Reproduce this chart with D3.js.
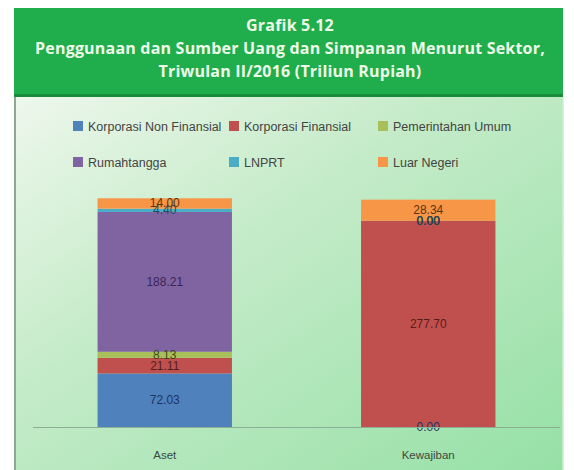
<!DOCTYPE html>
<html>
<head>
<meta charset="utf-8">
<script src="https://cdn.jsdelivr.net/npm/d3@7/dist/d3.min.js"></script>
<style>
  body { margin: 0; background: #fff; }
  svg { display: block; }
</style>
</head>
<body>
<script>
// data
var categories = ['Aset', 'Kewajiban'];
var sectors = ['Korporasi Non Finansial', 'Korporasi Finansial', 'Pemerintahan Umum',
               'Rumahtangga', 'LNPRT', 'Luar Negeri'];
var aset      = [72.03, 21.11, 8.13, 188.21, 4.40, 14.00];
var kewajiban = [0.00, 277.70, 0.00, 0.00, 0.00, 28.34];
var titleLines = ['Grafik 5.12',
                  'Penggunaan dan Sumber Uang dan Simpanan Menurut Sektor,',
                  'Triwulan II/2016 (Triliun Rupiah)'];

var colors = ['#4f81bd', '#c0504d', '#a9c05a', '#8064a2', '#4bacc6', '#f79646'];
var labelColors = ['#1d3560', '#5a1c1a', '#3c4a12', '#3a2458', '#1a4f5e', '#5a3510'];

var width = 574, height = 470;

var svg = d3.select('body').append('svg')
    .attr('width', width)
    .attr('height', height);

var defs = svg.append('defs');
var grad = defs.append('linearGradient')
    .attr('id', 'bg')
    .attr('x1', '0%').attr('y1', '0%')
    .attr('x2', '100%').attr('y2', '100%');
grad.append('stop').attr('offset', '0%').attr('stop-color', '#eef7ec');
grad.append('stop').attr('offset', '40%').attr('stop-color', '#c4ebc8');
grad.append('stop').attr('offset', '100%').attr('stop-color', '#96e0a6');

// panel
svg.append('rect')
    .attr('x', 14).attr('y', 96)
    .attr('width', 549).attr('height', 374)
    .attr('fill', 'url(#bg)');
svg.append('line')
    .attr('x1', 15).attr('x2', 15).attr('y1', 96).attr('y2', 470)
    .attr('stroke', '#8fa894').attr('stroke-width', 2);
svg.append('line')
    .attr('x1', 563).attr('x2', 563).attr('y1', 96).attr('y2', 470)
    .attr('stroke', '#c8f0cf').attr('stroke-width', 1.5);

// header
svg.append('rect')
    .attr('x', 14).attr('y', 8)
    .attr('width', 549).attr('height', 88)
    .attr('fill', '#1fae4b');
svg.append('rect')
    .attr('x', 14).attr('y', 94)
    .attr('width', 549).attr('height', 3)
    .attr('fill', '#178c3b');

svg.selectAll('text.title')
    .data(titleLines)
    .enter()
    .append('text')
        .attr('class', 'title')
        .attr('x', 290)
        .attr('y', function (d, i) { return 31 + i * 23; })
        .attr('text-anchor', 'middle')
        .attr('font-family', 'Open Sans, sans-serif')
        .attr('font-weight', 'bold')
        .attr('font-size', 16)
        .attr('letter-spacing', 0.2)
        .attr('fill', '#eefbe8')
        .text(function (d) { return d; });

// legend
var legendX = [73, 229, 378];
var legendY = [126, 162];
var legend = svg.selectAll('g.leg')
    .data(sectors)
    .enter()
    .append('g')
        .attr('class', 'leg')
        .attr('transform', function (d, i) {
            return 'translate(' + legendX[i % 3] + ',' + legendY[Math.floor(i / 3)] + ')';
        });
legend.append('rect')
    .attr('x', 0).attr('y', -5)
    .attr('width', 10).attr('height', 10)
    .attr('fill', function (d, i) { return colors[i]; });
legend.append('text')
    .attr('x', 15).attr('y', 4.5)
    .attr('font-family', 'Liberation Sans, Arial, sans-serif')
    .attr('font-size', 12.5)
    .attr('fill', '#444')
    .text(function (d) { return d; });

// scales
var x = d3.scaleBand()
    .domain(categories)
    .range([33, 560])
    .paddingInner(0.49)
    .paddingOuter(0.245);

var y = d3.scaleLinear()
    .domain([0, 350])
    .range([427, 167]);

// one series per sector, stacked within each category
var series = sectors.map(function (s, i) {
    return categories.map(function (c, j) {
        var vals = j === 0 ? aset : kewajiban;
        var base = d3.sum(vals.slice(0, i));
        return { cat: c, y0: base, y1: base + vals[i], v: vals[i], idx: i };
    });
});

var g = svg.append('g');

series.forEach(function (segs) {
    g.selectAll(null)
        .data(segs)
        .enter()
        .append('rect')
            .attr('x', function (d) { return x(d.cat); })
            .attr('width', x.bandwidth())
            .attr('y', function (d) { return y(d.y1); })
            .attr('height', function (d) { return y(d.y0) - y(d.y1); })
            .attr('fill', function (d) { return colors[d.idx]; });
});

// axis line
svg.append('line')
    .attr('x1', 33).attr('x2', 560)
    .attr('y1', y(0) + 0.5).attr('y2', y(0) + 0.5)
    .attr('stroke', '#8caf94').attr('stroke-width', 1);

// data labels
series.forEach(function (segs) {
    g.selectAll(null)
        .data(segs)
        .enter()
        .append('text')
            .attr('x', function (d) { return x(d.cat) + x.bandwidth() / 2; })
            .attr('y', function (d) { return y((d.y0 + d.y1) / 2) + 4; })
            .attr('text-anchor', 'middle')
            .attr('font-family', 'Liberation Sans, Arial, sans-serif')
            .attr('font-size', 12)
            .attr('fill', function (d) { return labelColors[d.idx]; })
            .text(function (d) { return d.v.toFixed(2); });
});

// category labels
svg.selectAll('text.cat')
    .data(categories)
    .enter()
    .append('text')
        .attr('class', 'cat')
        .attr('x', function (d) { return x(d) + x.bandwidth() / 2; })
        .attr('y', 459)
        .attr('text-anchor', 'middle')
        .attr('font-family', 'Liberation Sans, Arial, sans-serif')
        .attr('font-size', 11.5)
        .attr('fill', '#3d4a40')
        .text(function (d) { return d; });
</script>
</body>
</html>
